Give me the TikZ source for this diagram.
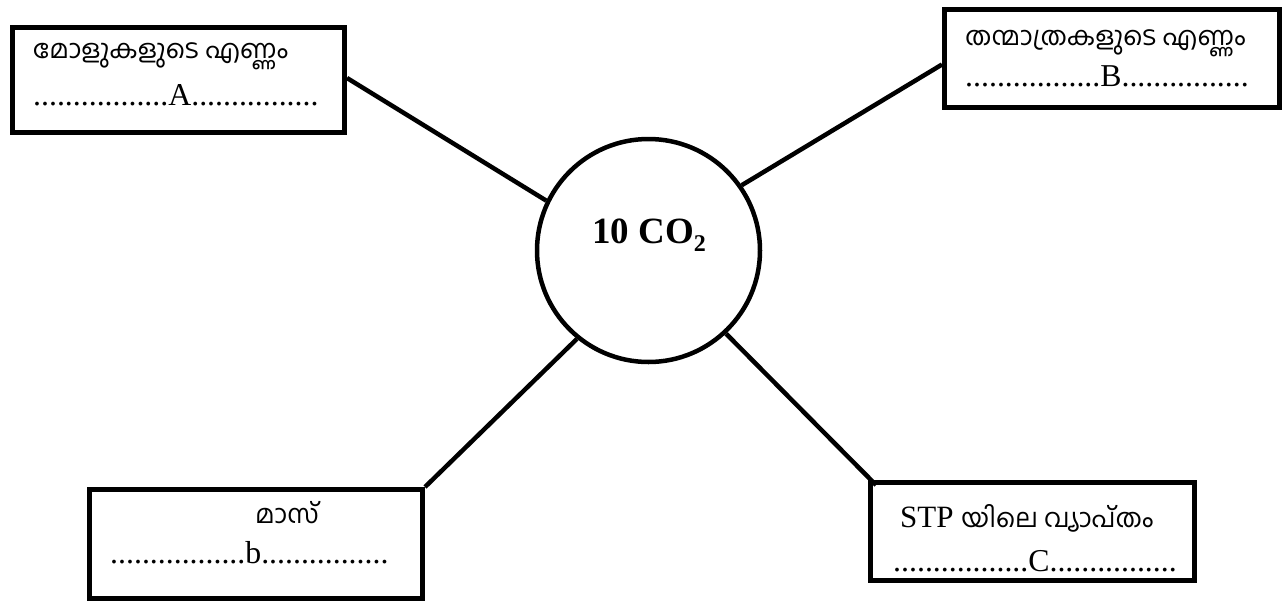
\documentclass[tikz,border=0pt]{standalone}
\usepackage{fontspec}
\setmainfont{Liberation Serif}
\newfontfamily\mlfont[Script=Malayalam]{Hind Kochi}
\begin{document}
\begin{tikzpicture}[x=1pt,y=-1pt,
  box/.style={draw,line width=5pt,rectangle,inner sep=0pt},
  conn/.style={line width=4.5pt},
  ml/.style={anchor=base west,inner sep=0pt,text depth=2pt,font=\mlfont\fontsize{26}{30}\selectfont},
  dots/.style={anchor=base west,inner sep=0pt,text height=20pt,font=\fontsize{31.8}{36}\selectfont}]
\useasboundingbox (0,0) rectangle (1286,603);
% boxes
\node[box,minimum width=332pt,minimum height=105pt] (A) at (178.5,80) {};
\node[box,minimum width=335pt,minimum height=98pt] (B) at (1112,58.5) {};
\node[box,minimum width=333pt,minimum height=109pt] (b) at (256,544) {};
\node[box,minimum width=324pt,minimum height=98pt] (C) at (1032.5,531.5) {};
% circle
\node[draw,circle,line width=4.5pt,minimum size=223pt,inner sep=0pt] (c) at (648.5,250.5) {};
\node[inner sep=0pt,font=\bfseries\fontsize{37}{40}\selectfont] (ct) at (649,235) {10 CO\raisebox{-0.22em}{\fontsize{24}{24}\selectfont 2}};
% texts
\node[ml] (a1) at (33,58) {മോളുകളുടെ എണ്ണം};
\node[dots] (a2) at (33,105) {.................A................};
\node[ml] (b1) at (965,45) {തന്മാത്രകളുടെ എണ്ണം};
\node[dots] (b2) at (965,86) {.................B................};
\node[ml] (m1) at (255,523) {മാസ്};
\node[dots] (m2) at (110,563) {.................b................};
\node[anchor=base west,inner sep=0pt] (c1) at (900,527) {\fontsize{31}{34}\selectfont STP \mlfont\fontsize{26}{30}\selectfont യിലെ വ്യാപ്തം};
\node[dots] (c2) at (893,571) {.................C................};
% connectors
\draw[conn] (A.east) ++(0,-2) coordinate (ae) (ae) -- (c.154);
\draw[conn] (c.35) -- ([yshift=-6pt]B.west);
\draw[conn] (c.231.5) -- (b.north east);
\draw[conn] (c.313) -- ([xshift=8pt,yshift=-5pt]C.north west);
\end{tikzpicture}
\end{document}
